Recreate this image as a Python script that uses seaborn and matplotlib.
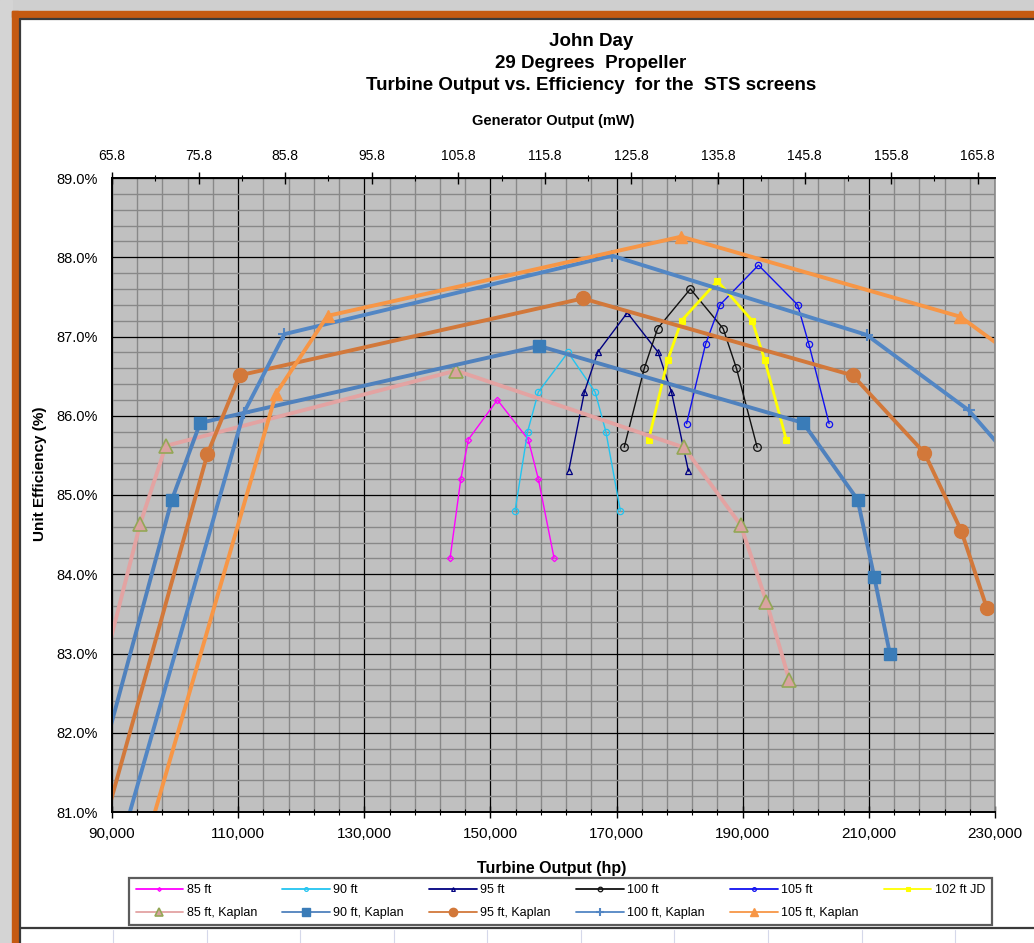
import matplotlib
matplotlib.use("Agg")
import matplotlib.pyplot as plt
import seaborn as sns
from matplotlib.lines import Line2D
from matplotlib.patches import Rectangle
from matplotlib.ticker import FixedLocator, FuncFormatter, MultipleLocator

# --- data (turbine output in hp, unit efficiency in %) ---
hp_85 = [143600, 145300, 146500, 151100, 156000, 157600, 160100]
eff_85 = [84.2, 85.2, 85.7, 86.2, 85.7, 85.2, 84.2]
hp_90 = [153900, 155900, 157600, 162300, 166600, 168300, 170600]
eff_90 = [84.8, 85.8, 86.3, 86.8, 86.3, 85.8, 84.8]
hp_95 = [162400, 164900, 167000, 171700, 176600, 178700, 181400]
eff_95 = [85.3, 86.3, 86.8, 87.3, 86.8, 86.3, 85.3]
hp_100 = [171200, 174400, 176500, 181700, 186900, 189000, 192300]
eff_100 = [85.6, 86.6, 87.1, 87.6, 87.1, 86.6, 85.6]
hp_105 = [181100, 184100, 186400, 192500, 198700, 200500, 203700]
eff_105 = [85.9, 86.9, 87.4, 87.9, 87.4, 86.9, 85.9]
hp_102jd = [175100, 178100, 180300, 186000, 191500, 193500, 196900]
eff_102jd = [85.7, 86.7, 87.2, 87.7, 87.2, 86.7, 85.7]

hp_85k = [86000, 94450, 98530, 144550, 180690, 189680, 193770, 197370]
eff_85k = [82.0, 84.63, 85.62, 86.57, 85.60, 84.62, 83.65, 82.67]
hp_90k = [87000, 99490, 103980, 157740, 199590, 208220, 210870, 213350]
eff_90k = [81.26, 84.94, 85.91, 86.88, 85.91, 84.94, 83.96, 82.99]
hp_95k = [86000, 105140, 110230, 164640, 207430, 218820, 224640, 228720]
eff_95k = [80.05, 85.52, 86.51, 87.48, 86.51, 85.53, 84.55, 83.57]
hp_100k = [88000, 110860, 117330, 169290, 209650, 225820, 236000]
eff_100k = [79.65, 86.03, 87.03, 88.02, 87.02, 86.07, 85.14]
hp_105k = [90000, 116010, 124170, 180260, 224480, 240000]
eff_105k = [79.13, 86.28, 87.26, 88.26, 87.25, 86.35]

hp_ticks = [90000, 110000, 130000, 150000, 170000, 190000, 210000, 230000]
gen_ticks = [65.8, 75.8, 85.8, 95.8, 105.8, 115.8, 125.8, 135.8, 145.8, 155.8, 165.8]

# name, x, y, style
SERIES = [
    ("85 ft", hp_85, eff_85, dict(color="#FF00FF", lw=1.0, marker="D", ms=3.2, mfc="none", mec="#FF00FF", mew=0.9)),
    ("90 ft", hp_90, eff_90, dict(color="#22C4F0", lw=1.0, marker="o", ms=4.5, mfc="none", mec="#22C4F0", mew=0.9)),
    ("95 ft", hp_95, eff_95, dict(color="#000080", lw=1.0, marker="^", ms=4.5, mfc="none", mec="#000080", mew=0.9)),
    ("100 ft", hp_100, eff_100, dict(color="#111111", lw=1.0, marker="o", ms=5.5, mfc="none", mec="#111111", mew=0.9)),
    ("105 ft", hp_105, eff_105, dict(color="#1010F0", lw=1.0, marker="o", ms=4.5, mfc="none", mec="#1010F0", mew=0.9)),
    ("102 ft JD", hp_102jd, eff_102jd, dict(color="#FFFF00", lw=2.0, marker="s", ms=4.0, mfc="#FFFF00", mec="#FFFF00", mew=0.8)),
    ("85 ft, Kaplan", hp_85k, eff_85k, dict(color="#E3A3A2", lw=2.8, marker="^", ms=10, mfc="#D9A3A0", mec="#93A756", mew=1.2)),
    ("90 ft, Kaplan", hp_90k, eff_90k, dict(color="#4F81BD", lw=2.8, marker="s", ms=8.5, mfc="#3A7CB8", mec="#3A7CB8", mew=1.0)),
    ("95 ft, Kaplan", hp_95k, eff_95k, dict(color="#D2783A", lw=2.8, marker="o", ms=10, mfc="#D2783A", mec="#D2783A", mew=1.0)),
    ("100 ft, Kaplan", hp_100k, eff_100k, dict(color="#5286C4", lw=2.8, marker="+", ms=9, mfc="#5286C4", mec="#5286C4", mew=1.5)),
    ("105 ft, Kaplan", hp_105k, eff_105k, dict(color="#F79646", lw=2.8, marker="^", ms=9, mfc="#F79646", mec="#F79646", mew=1.0)),
]

W, H = 1034, 943
sns.set_style("white")
plt.rcParams["font.family"] = ["Liberation Sans", "DejaVu Sans"]
plt.rcParams.update({"text.color": "black", "axes.labelcolor": "black",
                     "xtick.color": "black", "ytick.color": "black"})

fig = plt.figure(figsize=(W / 100, H / 100), dpi=100)
fig.patch.set_facecolor("white")


def fx(px):
    return px / W


def fy(py):
    return 1 - py / H


# page decoration: shadow, orange frame, chart border, spreadsheet strip
fig.patches.append(Rectangle((0, fy(11)), 1, 11 / H, transform=fig.transFigure, color="#CFCFCF", zorder=0))
fig.patches.append(Rectangle((0, 0), fx(12), 1, transform=fig.transFigure, color="#D4D4D4", zorder=0))
fig.patches.append(Rectangle((fx(12), fy(17)), 1, 6 / H, transform=fig.transFigure, color="#C55A11", zorder=1))
fig.patches.append(Rectangle((fx(12), 0), 6 / W, fy(11), transform=fig.transFigure, color="#C55A11", zorder=1))
fig.add_artist(Line2D([fx(20), 1], [fy(19), fy(19)], transform=fig.transFigure, color="#3A3A3A", lw=1.6))
fig.add_artist(Line2D([fx(20), fx(20)], [fy(19), 0], transform=fig.transFigure, color="#3A3A3A", lw=1.6))
fig.add_artist(Line2D([fx(20), 1], [fy(928), fy(928)], transform=fig.transFigure, color="#3A3A3A", lw=1.6))
for xc in [113, 207, 300, 394, 487, 581, 674, 768, 862, 955]:
    fig.add_artist(Line2D([fx(xc), fx(xc)], [fy(930), 0], transform=fig.transFigure, color="#D5D8EA", lw=0.8))

ax = fig.add_axes([fx(112), fy(812), fx(995 - 112), (812 - 178) / H])
ax.set_facecolor("#C0C0C0")

for name, xs, ys, st in SERIES:
    sns.lineplot(x=xs, y=ys, ax=ax, sort=False, estimator=None, label=name,
                 color=st["color"], linewidth=st["lw"], marker=st["marker"],
                 markersize=st["ms"], markerfacecolor=st["mfc"],
                 markeredgecolor=st["mec"], markeredgewidth=st["mew"])

ax.set_xlim(90000, 230000)
ax.set_ylim(81.0, 89.0)
ax.xaxis.set_major_locator(FixedLocator(hp_ticks))
ax.xaxis.set_minor_locator(MultipleLocator(4000, offset=2000))
ax.yaxis.set_major_locator(MultipleLocator(1.0))
ax.yaxis.set_minor_locator(MultipleLocator(0.2))
ax.xaxis.set_major_formatter(FuncFormatter(lambda v, _: f"{v:,.0f}"))
ax.yaxis.set_major_formatter(FuncFormatter(lambda v, _: f"{v:.1f}%"))
ax.grid(which="minor", color="#888888", lw=1.0)
ax.grid(which="major", color="#000000", lw=0.9)
ax.set_axisbelow(True)
ax.tick_params(which="major", direction="inout", length=8, width=1, labelsize=11, pad=7, colors="black")
ax.tick_params(which="minor", direction="inout", length=4, width=0.8)
ax.tick_params(axis="y", pad=6, labelsize=10.5)
for s in ["left", "bottom"]:
    ax.spines[s].set_color("black")
    ax.spines[s].set_linewidth(1.4)
ax.spines["right"].set_color("#8A8A8A")
ax.spines["right"].set_linewidth(1.2)
ax.spines["top"].set_color("black")
ax.spines["top"].set_linewidth(1.4)
ax.set_xlabel("")
ax.set_ylabel("")
if ax.get_legend():
    ax.get_legend().remove()

# top axis: generator output
ax2 = ax.twiny()
ax2.set_xlim(65.8, 167.8)
ax2.xaxis.set_major_locator(FixedLocator(gen_ticks))
ax2.xaxis.set_minor_locator(MultipleLocator(5, offset=0.8))
ax2.set_xticklabels([f"{t:.1f}" for t in gen_ticks])
ax2.tick_params(which="major", direction="inout", length=8, width=1, labelsize=10, pad=7)
ax2.tick_params(which="minor", direction="inout", length=4, width=0.8)
for s in ax2.spines.values():
    s.set_visible(False)

fig.text(fx(591), fy(42), "John Day", ha="center", va="center", fontsize=13.5, fontweight="bold")
fig.text(fx(591), fy(63), "29 Degrees  Propeller", ha="center", va="center", fontsize=13.5, fontweight="bold")
fig.text(fx(591), fy(85), "Turbine Output vs. Efficiency  for the  STS screens", ha="center", va="center",
         fontsize=13.5, fontweight="bold")
fig.text(fx(553), fy(121), "Generator Output (mW)", ha="center", va="center", fontsize=10.5, fontweight="bold")
fig.text(fx(552), fy(869), "Turbine Output (hp)", ha="center", va="center", fontsize=11.5, fontweight="bold")
fig.text(fx(40), fy(474), "Unit Efficiency (%)", ha="center", va="center", rotation=90, fontsize=11,
         fontweight="bold")

handles, labels = ax.get_legend_handles_labels()
# matplotlib fills legend columns first; interleave so rows read like the original
order = [0, 6, 1, 7, 2, 8, 3, 9, 4, 10, 5]
leg = fig.legend([handles[i] for i in order], [labels[i] for i in order], ncol=6,
                 loc="center", bbox_to_anchor=(fx(123), fy(901.5), fx(998 - 123), 0),
                 mode="expand", fontsize=9, frameon=True, fancybox=False, handlelength=3.8,
                 labelspacing=0.9, borderpad=0.5, handletextpad=0.3, markerscale=0.6)
leg.get_frame().set_edgecolor("#333333")
leg.get_frame().set_linewidth(1.6)
for ln in leg.get_lines():
    ln.set_linewidth(1.3)

fig.savefig("out.png", dpi=100)
